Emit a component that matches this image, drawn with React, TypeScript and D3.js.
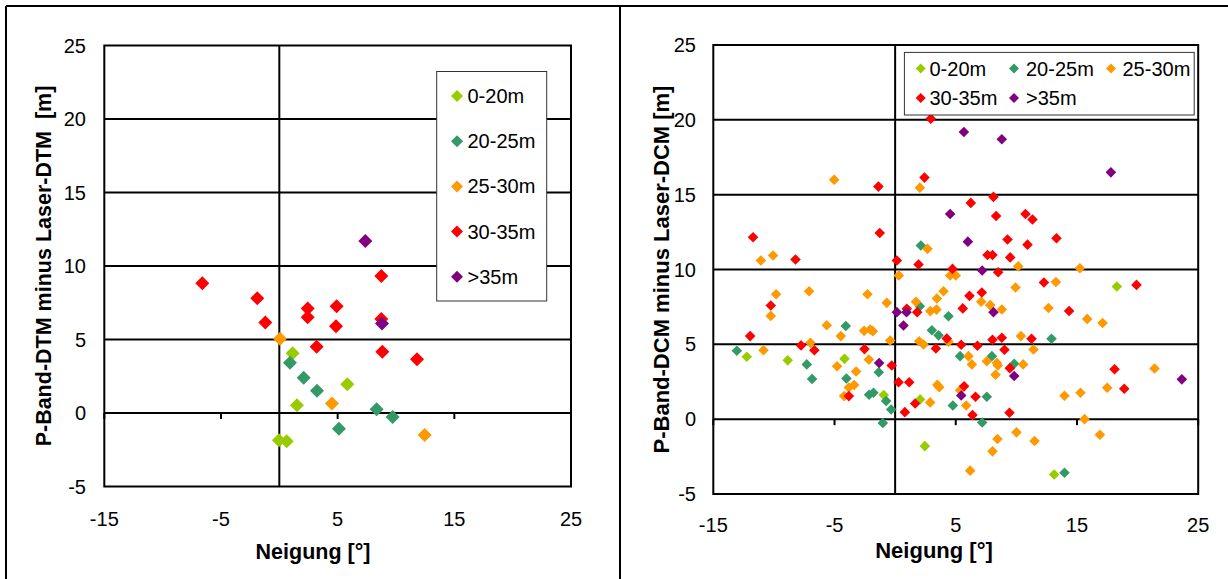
import React from "react";
import * as d3 from "d3";

const width = 1228;
const height = 579;

const seriesNames = ["0-20m", "20-25m", "25-30m", "30-35m", ">35m"];
const seriesColors = ["#99CC00", "#339966", "#FF9900", "#FF0000", "#800080"];

const xTicks = [-15, -5, 5, 15, 25];
const yTicks = [-5, 0, 5, 10, 15, 20, 25];
const gridValues = [0, 5, 10, 15, 20];

// left chart: P-Band-DTM minus Laser-DTM
const dtm0to20 = [[1.14, 4.07], [5.83, 1.95], [1.51, 0.52], [-0.03, -1.86], [0.63, -1.93]];
const dtm20to25 = [[0.91, 3.41], [2.09, 2.39], [3.23, 1.52], [5.11, -1.07], [8.34, 0.25], [9.71, -0.27]];
const dtm25to30 = [[0.06, 5.05], [4.51, 0.64], [12.46, -1.5]];
const dtm30to35 = [
  [-6.6, 8.82], [-1.89, 7.8], [-1.2, 6.16], [2.43, 7.11], [2.43, 6.52], [4.91, 7.27],
  [4.86, 5.9], [3.2, 4.5], [8.74, 9.32], [8.74, 6.39], [8.83, 4.16], [11.8, 3.66],
];
const dtmOver35 = [[7.37, 11.7], [8.8, 6.09]];

// right chart: P-Band-DCM minus Laser-DCM
const dcm0to20 = [
  [-12.24, 4.17], [-8.86, 3.93], [-4.18, 4.03], [-0.94, 1.61], [2.06, 1.32], [2.45, -1.8],
  [18.29, 8.86], [13.12, -3.7],
];
const dcm20to25 = [
  [-13.06, 4.57], [-7.29, 3.66], [-6.85, 2.68], [-4.07, 6.23], [-4.02, 2.72], [-2.15, 1.63],
  [-1.79, 1.77], [-1.35, 3.14], [-0.74, 1.21], [-0.33, 0.65], [-1.02, -0.26], [2.12, 11.6],
  [2.04, 7.55], [3.03, 5.94], [3.58, 5.6], [4.4, 6.88], [4.76, 0.91], [5.36, 4.21],
  [7.98, 4.21], [7.56, 1.5], [7.18, -0.22], [9.82, 3.7], [12.9, 5.37], [13.97, -3.58],
];
const dcm25to30 = [
  [-5.03, 16.0], [2.04, 15.47], [2.67, 11.38], [-11.08, 10.6], [-10.07, 10.93], [0.3, 9.6],
  [4.54, 9.6], [5.0, 9.6], [10.15, 10.21], [15.24, 10.08], [9.93, 8.8], [13.26, 9.17],
  [-9.82, 8.35], [-7.1, 8.55], [-2.28, 8.35], [-0.69, 7.77], [3.99, 8.55], [3.44, 8.06],
  [-10.26, 6.9], [1.72, 7.84], [2.9, 7.22], [3.41, 7.32], [-5.64, 6.28], [-4.48, 5.55],
  [-2.56, 5.9], [-2.06, 5.99], [-1.84, 5.88], [-0.41, 5.26], [1.98, 5.21], [2.34, 4.99],
  [-6.99, 5.1], [-10.86, 4.61], [-2.17, 3.98], [-4.79, 3.54], [-3.22, 3.19], [-3.82, 2.12],
  [-3.38, 2.28], [-4.21, 1.54], [2.89, 1.12], [3.48, 2.29], [3.64, 2.14], [7.1, 7.84],
  [7.84, 7.62], [8.8, 7.33], [12.65, 7.43], [15.84, 6.7], [17.11, 6.43], [4.4, 5.17],
  [10.37, 5.55], [11.41, 4.66], [6.05, 4.21], [6.33, 3.66], [7.56, 3.87], [8.39, 3.76],
  [8.47, 3.59], [8.28, 2.97], [10.56, 3.66], [21.4, 3.39], [17.49, 2.1], [15.29, 1.77],
  [13.97, 1.57], [5.36, 1.94], [5.86, 0.91], [15.62, 0.0], [8.44, -1.33], [10.01, -0.88],
  [11.5, -1.46], [8.03, -2.15], [16.89, -1.04], [6.19, -3.44],
];
const dcm30to35 = [
  [2.94, 20.08], [-1.38, 15.54], [2.42, 16.14], [-11.72, 12.15], [-1.27, 12.44], [-8.22, 10.67],
  [0.14, 10.6], [1.93, 10.33], [4.73, 10.04], [8.11, 14.85], [6.24, 14.45], [8.33, 13.57],
  [10.75, 13.71], [11.33, 13.34], [13.31, 12.09], [9.27, 12.0], [10.92, 11.66], [7.62, 10.97],
  [8.03, 10.97], [9.49, 10.81], [8.5, 9.82], [12.27, 9.13], [19.91, 8.97], [-10.26, 7.6],
  [0.96, 7.37], [1.82, 7.15], [-11.96, 5.55], [-7.76, 4.93], [-6.66, 4.6], [-2.53, 4.68],
  [-0.28, 3.59], [-3.82, 1.54], [0.28, 2.47], [1.16, 2.47], [0.8, 0.47], [1.65, 1.05],
  [3.36, 4.72], [6.13, 8.24], [7.15, 8.46], [5.58, 7.4], [14.35, 7.23], [4.26, 5.39],
  [5.45, 4.97], [6.79, 4.91], [8.03, 5.31], [8.8, 5.44], [9.02, 4.64], [11.25, 5.37],
  [9.46, 3.41], [18.1, 3.34], [18.9, 2.03], [5.69, 2.2], [6.63, 1.5], [6.38, 0.28], [9.43, 0.43],
];
const dcmOver35 = [
  [5.67, 19.19], [8.8, 18.7], [17.8, 16.49], [4.54, 13.71], [6.0, 11.86], [7.18, 9.93],
  [0.14, 7.15], [0.94, 7.15], [0.69, 6.26], [-1.32, 3.75], [8.11, 7.15], [9.82, 2.88],
  [23.65, 2.66], [5.45, 1.58],
];

const font = "'Liberation Sans', Arial, sans-serif";

const panels = [
  {
    series: [dtm0to20, dtm20to25, dtm25to30, dtm30to35, dtmOver35],
    xRange: [104.3, 571],
    yRange: [486.5, 45.5],
    markerSize: 98,
    yTitle: "P-Band-DTM minus Laser-DTM\u00a0 [m]",
    yTitleX: 43.5,
    titleSize: 21.5,
    xTitleX: 313,
    xTitleY: 551,
    xLabelY: 519,
    yLabelX: 86,
    legend: { x: 436.7, y: 71.5, w: 110, h: 229.5, size: 72 },
    legendItems: [0, 1, 2, 3, 4].map((i) => ({ i, mx: 457, ty: 96 + i * 45.2, tx: 467.5 })),
  },
  {
    series: [dcm0to20, dcm20to25, dcm25to30, dcm30to35, dcmOver35],
    xRange: [713.3, 1198.2],
    yRange: [494, 45],
    markerSize: 56,
    yTitle: "P-Band-DCM minus Laser-DCM [m]",
    yTitleX: 661,
    titleSize: 22,
    xTitleX: 934,
    xTitleY: 550,
    xLabelY: 525,
    yLabelX: 696,
    legend: { x: 904.4, y: 52.4, w: 289.8, h: 62.6, size: 50 },
    legendItems: [
      { i: 0, mx: 920.7, tx: 929.5, ty: 68.5 },
      { i: 1, mx: 1014, tx: 1026, ty: 68.5 },
      { i: 2, mx: 1111, tx: 1122.5, ty: 68.5 },
      { i: 3, mx: 920.7, tx: 929.5, ty: 98 },
      { i: 4, mx: 1014, tx: 1026, ty: 98 },
    ],
  },
];

function Panel({ p }: { p: any }) {
  const x = d3.scaleLinear().domain([-15, 25]).range(p.xRange);
  const y = d3.scaleLinear().domain([-5, 25]).range(p.yRange);
  const diamond = d3.symbol(d3.symbolSquare, p.markerSize)() as string;
  const legendDiamond = d3.symbol(d3.symbolSquare, p.legend.size)() as string;
  const yMid = (y(-5) + y(25)) / 2;

  return (
    <g>
      {gridValues.map((v) => (
        <line key={"g" + v} x1={x(-15)} x2={x(25)} y1={y(v)} y2={y(v)} stroke="#000" strokeWidth={2} />
      ))}
      <line x1={x(0)} x2={x(0)} y1={y(-5)} y2={y(25)} stroke="#000" strokeWidth={2} />
      {xTicks.map((v) => (
        <line key={"t" + v} x1={x(v)} x2={x(v)} y1={y(0)} y2={y(0) + 6} stroke="#000" strokeWidth={2} />
      ))}

      {p.series.map((s: number[][], i: number) =>
        s.map((d, j) => (
          <path
            key={i + "-" + j}
            d={diamond}
            transform={`translate(${x(d[0])},${y(d[1])}) rotate(45)`}
            fill={seriesColors[i]}
          />
        ))
      )}

      <rect
        x={x(-15)}
        y={y(25)}
        width={x(25) - x(-15)}
        height={y(-5) - y(25)}
        fill="none"
        stroke="#000"
        strokeWidth={2}
      />

      {xTicks.map((v) => (
        <text key={"xl" + v} x={x(v)} y={p.xLabelY} dy="0.35em" textAnchor="middle" fontSize={20} fontFamily={font}>
          {v}
        </text>
      ))}
      {yTicks.map((v) => (
        <text key={"yl" + v} x={p.yLabelX} y={y(v)} dy="0.35em" textAnchor="end" fontSize={20} fontFamily={font}>
          {v}
        </text>
      ))}

      <text
        x={p.xTitleX}
        y={p.xTitleY}
        dy="0.35em"
        textAnchor="middle"
        fontSize={p.titleSize}
        fontWeight="bold"
        fontFamily={font}
      >
        Neigung [°]
      </text>
      <text
        transform={`translate(${p.yTitleX},${yMid}) rotate(-90)`}
        dy="0.35em"
        textAnchor="middle"
        fontSize={p.titleSize}
        fontWeight="bold"
        fontFamily={font}
        style={{ whiteSpace: "pre" }}
      >
        {p.yTitle}
      </text>

      <rect x={p.legend.x} y={p.legend.y} width={p.legend.w} height={p.legend.h} fill="#fff" stroke="#333" strokeWidth={1} />
      {p.legendItems.map((it: any) => (
        <g key={"li" + it.i}>
          <path d={legendDiamond} transform={`translate(${it.mx},${it.ty}) rotate(45)`} fill={seriesColors[it.i]} />
          <text x={it.tx} y={it.ty} dy="0.35em" fontSize={20} fontFamily={font}>
            {seriesNames[it.i]}
          </text>
        </g>
      ))}
    </g>
  );
}

export default function App() {
  return (
    <svg
      width={width}
      height={height}
      style={{ position: "absolute", left: 0, top: 0, display: "block", background: "#fff" }}
    >
      <rect x={0} y={0} width={width} height={height} fill="#fff" />
      {/* outer frame of the two-panel figure */}
      <line x1={6} x2={width} y1={6} y2={6} stroke="#000" strokeWidth={2} />
      <line x1={6} x2={6} y1={6} y2={height} stroke="#000" strokeWidth={2} />
      <line x1={620} x2={620} y1={6} y2={height} stroke="#000" strokeWidth={2} />
      {panels.map((p, i) => (
        <Panel key={i} p={p} />
      ))}
    </svg>
  );
}
